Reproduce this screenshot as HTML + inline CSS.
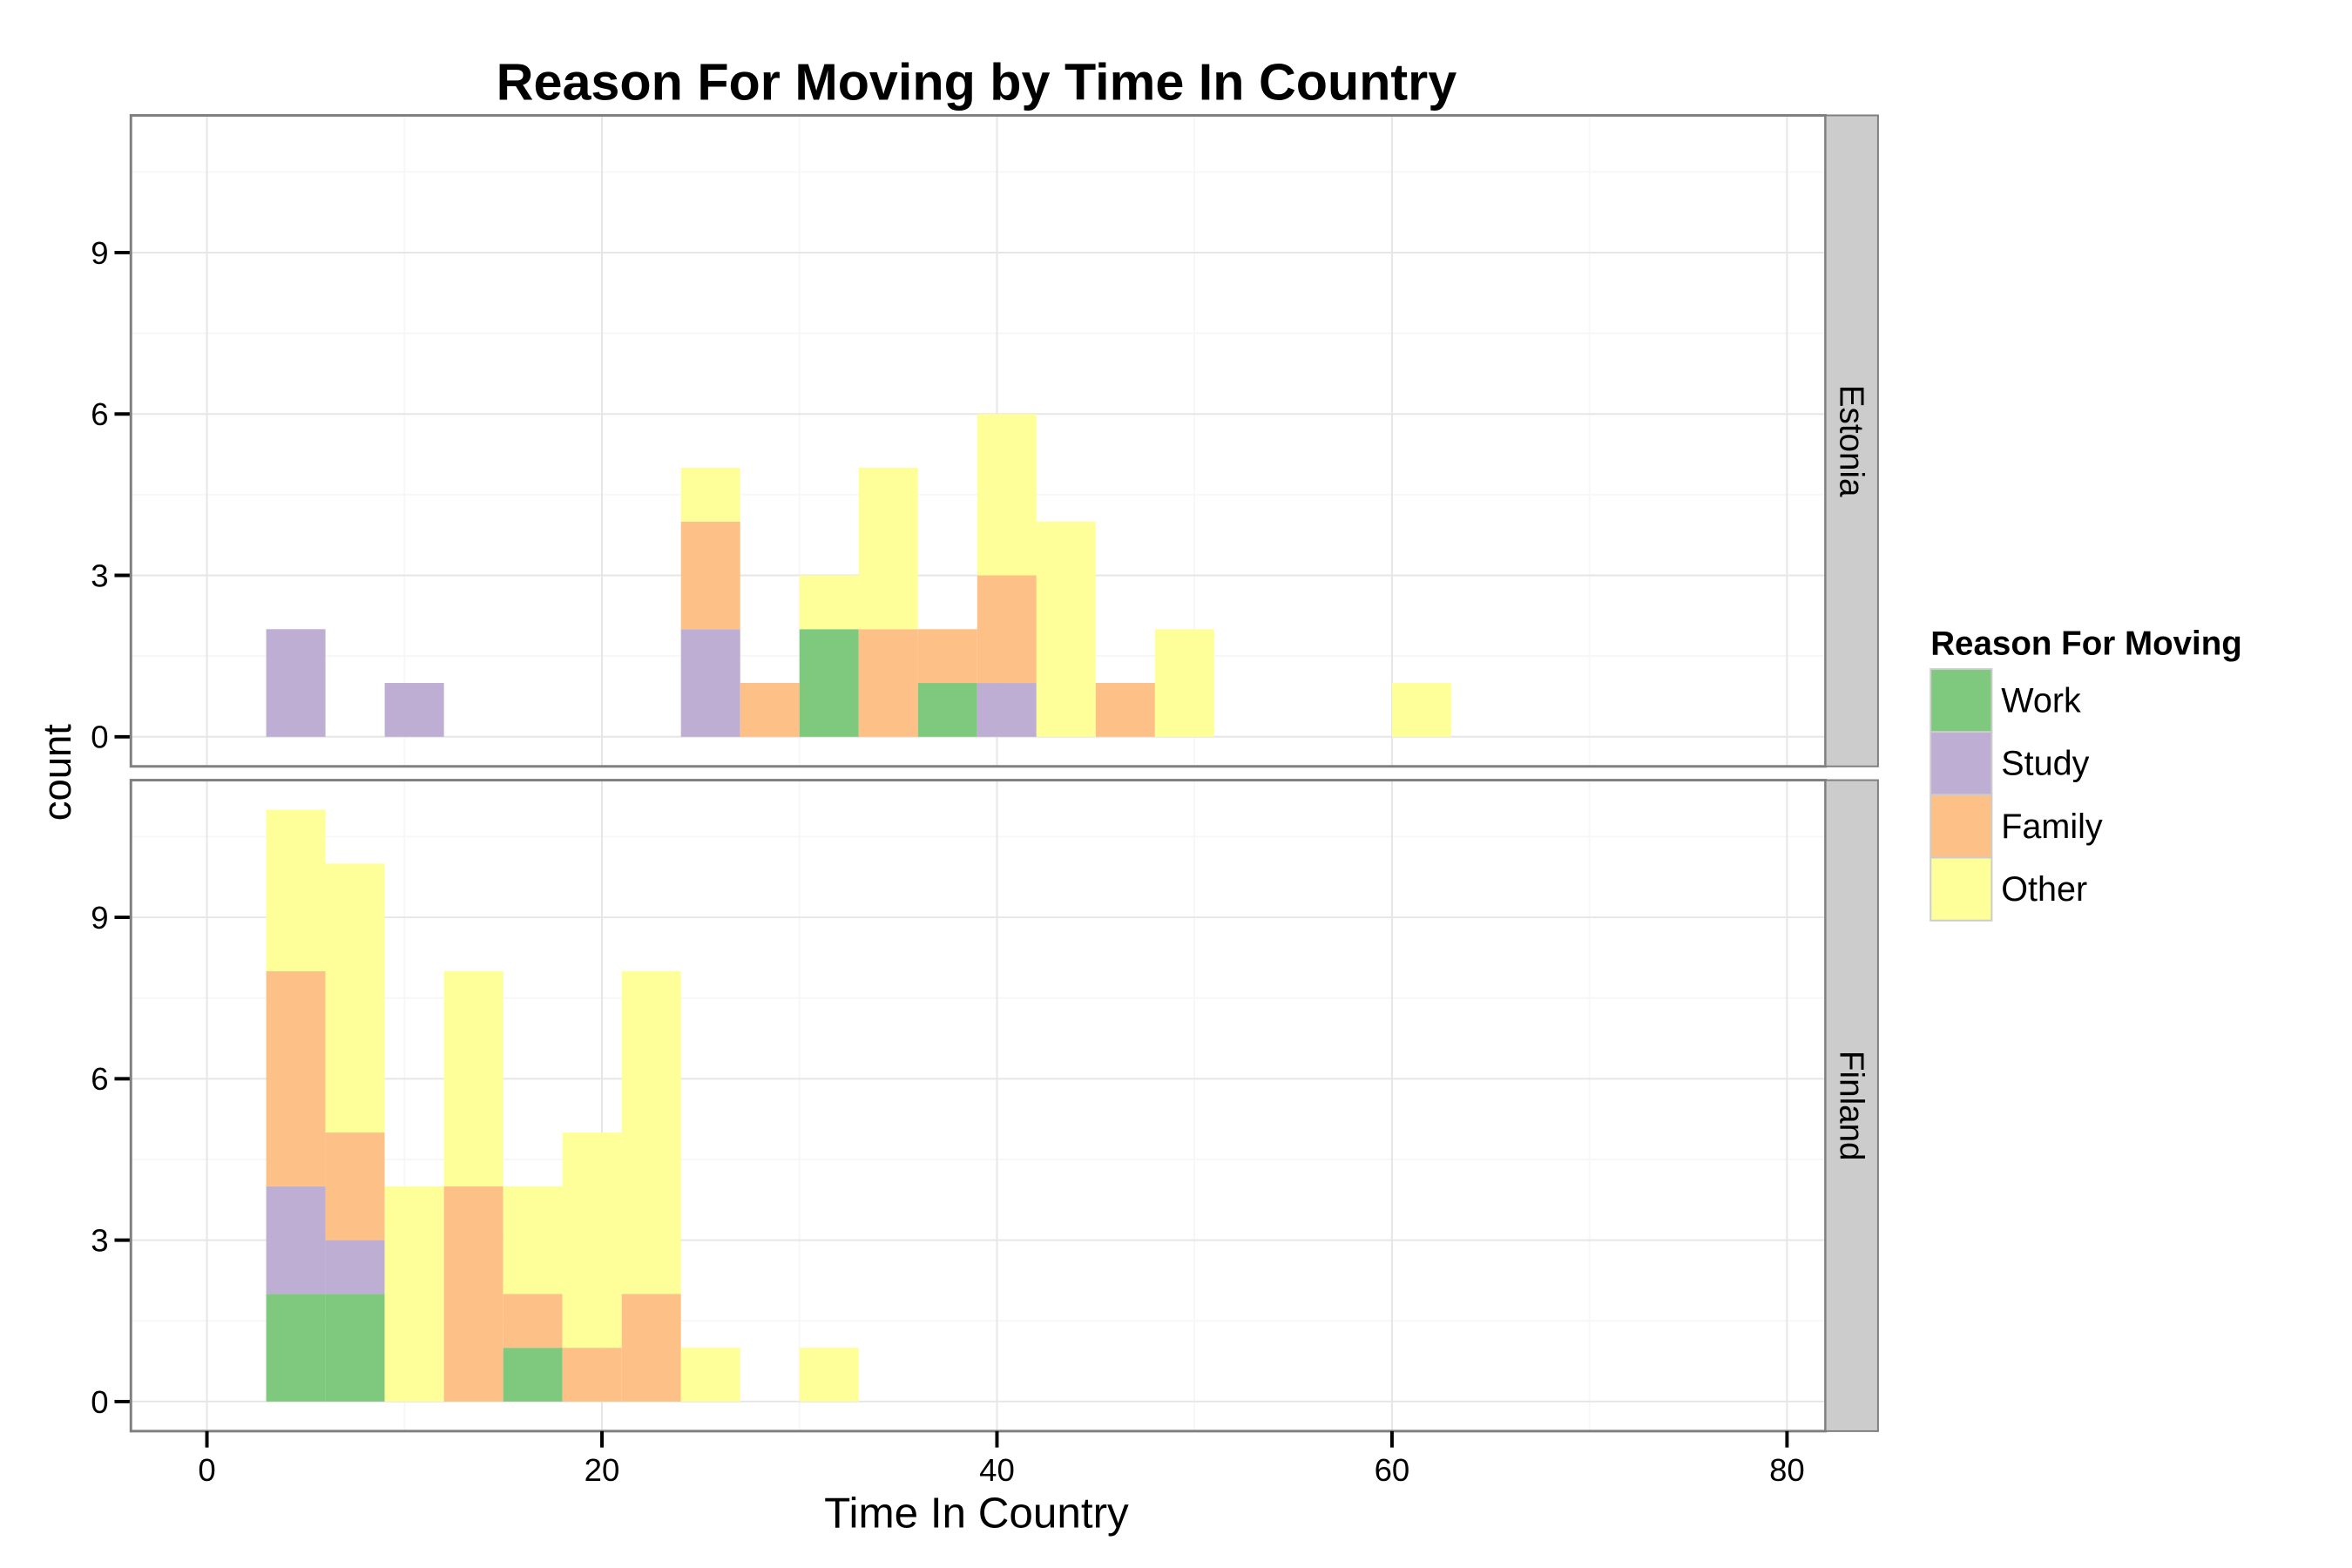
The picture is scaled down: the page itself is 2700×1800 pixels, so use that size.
<!DOCTYPE html>
<html><head><meta charset="utf-8"><style>
html,body{margin:0;padding:0;background:#fff;}
svg{display:block;font-family:"Liberation Sans",Arial,sans-serif;}
</style></head><body>
<svg id="svgroot" width="2700" height="1800" viewBox="0 0 2700 1800" xmlns="http://www.w3.org/2000/svg">
<rect x="0" y="0" width="2700" height="1800" fill="#fff"/>
<g id="chart" transform="scale(0.9885)">
<text x="1134" y="116" font-size="60" font-weight="bold" text-anchor="middle">Reason For Moving by Time In Country</text>
<g id="panels"></g>
<text x="1134" y="1774" font-size="50" text-anchor="middle">Time In Country</text>
<text x="0" y="0" font-size="46" text-anchor="middle" transform="translate(82,897) rotate(-90)">count</text>
<g id="legend">
<text x="2242" y="760" font-size="39" font-weight="bold">Reason For Moving</text>
</g>
</g>
</svg>
<script>
const categories = ["Work","Study","Family","Other"];
const colors = ["#7fc97f","#beaed4","#fdc086","#ffff99"];
const binWidth = 3;
const facets = ["Estonia","Finland"];
const estoniaBins = [3,9,24,27,30,33,36,39,42,45,48,60];
const estoniaWork   = [0,0,0,0,2,0,1,0,0,0,0,0];
const estoniaStudy  = [2,1,2,0,0,0,0,1,0,0,0,0];
const estoniaFamily = [0,0,2,1,0,2,1,2,0,1,0,0];
const estoniaOther  = [0,0,1,0,1,3,0,3,4,0,2,1];
const finlandBins = [3,6,9,12,15,18,21,24,30];
const finlandWork   = [2,2,0,0,1,0,0,0,0];
const finlandStudy  = [2,1,0,0,0,0,0,0,0];
const finlandFamily = [4,2,0,4,1,1,2,0,0];
const finlandOther  = [3,5,4,4,2,4,6,1,1];
const xTicks = [0,20,40,60,80];
const yTicks = [0,3,6,9];

const NS = "http://www.w3.org/2000/svg";
const svg = document.getElementById('chart');
const panelsG = document.getElementById('panels');
const PX0 = 152, PX1 = 2120;
const XMIN = -3.85, XMAX = 81.95, YMIN = -0.55, YMAX = 11.55;
const panelTops = [134, 906], PH = 756;
function xs(v){ return PX0 + (v - XMIN) / (XMAX - XMIN) * (PX1 - PX0); }
function ysFor(top){ return v => top + PH - (v - YMIN) / (YMAX - YMIN) * PH; }
function mk(tag, attrs, parent){
  const e = document.createElementNS(NS, tag);
  for (const k in attrs) e.setAttribute(k, attrs[k]);
  parent.appendChild(e); return e;
}
const data = [
  {bins: estoniaBins, series: [estoniaWork, estoniaStudy, estoniaFamily, estoniaOther]},
  {bins: finlandBins, series: [finlandWork, finlandStudy, finlandFamily, finlandOther]}
];
facets.forEach((f, fi) => {
  const top = panelTops[fi];
  const ys = ysFor(top);
  const g = mk('g', {}, panelsG);
  
  
  for (let v = 10; v <= 80; v += 20) {
    const l = mk('line', {x1: xs(v), x2: xs(v), y1: top, y2: top + PH, stroke: '#f7f7f7', 'stroke-width': 2}, g);
    
    
  }
  for (let v = 1.5; v <= 11; v += 3) {
    const l = mk('line', {x1: PX0, x2: PX1, y1: ys(v), y2: ys(v), stroke: '#f7f7f7', 'stroke-width': 2}, g);
    
    
  }
  xTicks.forEach(v => {
    const l = mk('line', {x1: xs(v), x2: xs(v), y1: top, y2: top + PH, stroke: '#e6e6e6', 'stroke-width': 2}, g);
    
    
  });
  yTicks.forEach(v => {
    const l = mk('line', {x1: PX0, x2: PX1, y1: ys(v), y2: ys(v), stroke: '#e6e6e6', 'stroke-width': 2}, g);
    
    
    const t = mk('line', {x1: PX0 - 19, x2: PX0, y1: ys(v), y2: ys(v), stroke: '#000', 'stroke-width': 4}, g);
    
    
    const tx = mk('text', {x: PX0 - 26, y: ys(v) + 13, 'font-size': 37, 'text-anchor': 'end'}, g);
    tx.textContent = v;
    
    
  });
  const d = data[fi];
  d.bins.forEach((b, bi) => {
    let cum = 0;
    d.series.forEach((s, si) => {
      const c = s[bi];
      if (c > 0) {
        const r = mk('rect', {x: xs(b), y: ys(cum + c), width: xs(b + binWidth) - xs(b), height: ys(cum) - ys(cum + c), fill: colors[si]}, g);
        
        
      }
      cum += c;
    });
  });
  const border = mk('rect', {x: PX0, y: top, width: PX1 - PX0, height: PH, fill: 'none', stroke: '#7f7f7f', 'stroke-width': 3}, g);
  
  
  const strip = mk('rect', {x: PX1, y: top, width: 61, height: PH, fill: '#cccccc', stroke: '#7f7f7f', 'stroke-width': 2}, g);
  
  
  const st = mk('text', {x: 0, y: 0, 'font-size': 39, 'text-anchor': 'middle', transform: 'translate(' + (PX1 + 17) + ',' + (top + PH / 2) + ') rotate(90)'}, g);
  st.textContent = f;
  
  
});
const bottom = panelTops[1] + PH;
xTicks.forEach(v => {
  const t = mk('line', {x1: xs(v), x2: xs(v), y1: bottom, y2: bottom + 19, stroke: '#000', 'stroke-width': 4}, svg);
  
  
  const tx = mk('text', {x: xs(v), y: bottom + 58, 'font-size': 37, 'text-anchor': 'middle'}, svg);
  tx.textContent = v;
  
  
});
const lg = document.getElementById('legend');
categories.forEach((c, i) => {
  const y = 777 + i * 73;
  const r = mk('rect', {x: 2242, y: y, width: 71, height: 73, fill: colors[i], stroke: '#cccccc', 'stroke-width': 2}, lg);
  
  
  const t = mk('text', {x: 2324, y: y + 50, 'font-size': 40}, lg);
  t.textContent = c;
  
  
});
</script>
</body></html>
